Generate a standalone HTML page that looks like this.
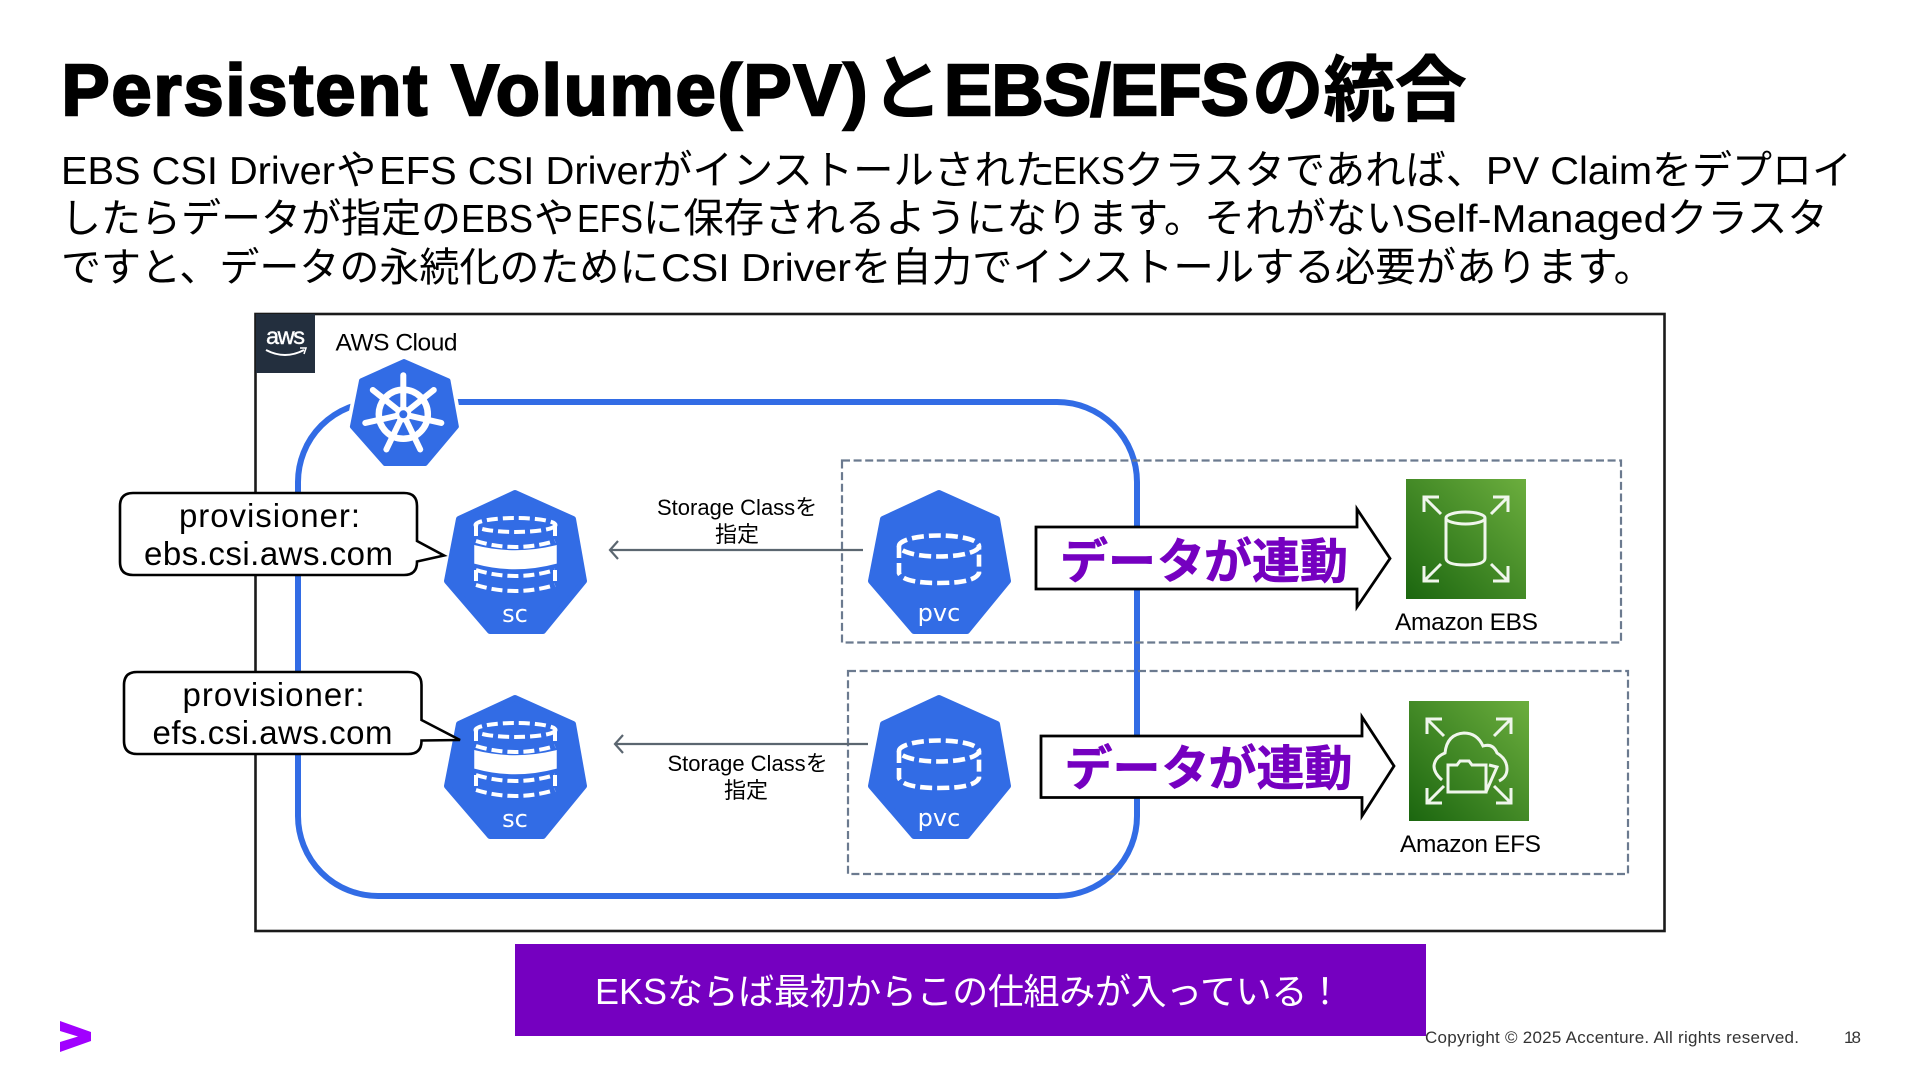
<!DOCTYPE html>
<html lang="ja"><head><meta charset="utf-8"><title>Persistent Volume(PV)とEBS/EFSの統合</title>
<style>
html,body{margin:0;padding:0;background:#fff;width:1920px;height:1080px;overflow:hidden}
svg{display:block}
text{font-family:"Liberation Sans","Noto Sans CJK JP",sans-serif;fill:#000}
.j{font-family:"Noto Sans CJK JP","Liberation Sans",sans-serif}
.t{font-size:72px;font-weight:700;stroke:#000;stroke-width:2.4px}
.tj{font-size:71.5px;font-weight:700}
.b{font-size:38.5px}
.bj{font-size:40.4px;font-family:"Noto Sans CJK JP","Liberation Sans",sans-serif}
.c{font-size:33px}
.s{font-size:22px}
.a{font-size:24.5px}
.d{font-size:48px;font-weight:700;fill:#7500c0;stroke:#7500c0;stroke-width:.6px;font-family:"Noto Sans CJK JP",sans-serif}
.l{font-size:24px;fill:#fff;font-family:"DejaVu Sans",sans-serif}
.f{font-size:17px;fill:#333}
</style></head><body>
<svg width="1920" height="1080" viewBox="0 0 1920 1080" xmlns="http://www.w3.org/2000/svg">
<defs>
<linearGradient id="g" x1="0" y1="1" x2="1" y2="0"><stop offset="0" stop-color="#1b660f"/><stop offset="1" stop-color="#6cae3e"/></linearGradient>
<polygon id="hp" points="515,493 573,519 584,581 543,631 490,631 447,581 459,519" fill="#326ce5" stroke="#326ce5" stroke-width="6" stroke-linejoin="round"/>
<g id="sc">
<use href="#hp"/>
<g fill="none" stroke="#fff" stroke-width="4" stroke-dasharray="11 5">
<ellipse cx="515.5" cy="525" rx="40" ry="7"/>
<path d="M476 525V540M555 525V540"/>
<path d="M476 541Q515 553 555 541"/>
<path d="M476 570V585M555 570V585"/>
<path d="M476 570Q515 582 555 570"/>
<path d="M476 585Q515 597 555 585"/>
</g>
<path d="M475 546Q515 556 556 546V563Q515 574 475 563Z" fill="#fff" stroke="#fff" stroke-width="1.5"/>
</g>
<g id="pv">
<use href="#hp" transform="translate(424,0)"/>
<g fill="none" stroke="#fff" stroke-width="4.6" stroke-dasharray="12 5">
<ellipse cx="939" cy="546" rx="40" ry="10.5"/>
<path d="M899 546V573Q903 583 939 583Q975 583 979 573V546"/>
</g>
</g>
<g id="ar" fill="none" stroke="#f0f6ec" stroke-width="3">
<path d="M33 18H18V33M18 18L35 35"/><path d="M87 18H102V33M102 18L85 35"/>
<path d="M18 87V102H33M18 102L35 85"/><path d="M102 87V102H87M102 102L85 85"/>
</g>
</defs>

<!-- title -->
<text class="t" x="61.5" y="115" textLength="806">Persistent Volume(PV)</text>
<text class="j tj" x="871" y="114" font-weight="500" style="font-size:72px">と</text>
<text class="t" x="944" y="115" textLength="305">EBS/EFS</text>
<text class="j tj" x="1252" y="115" stroke="#000" stroke-width="1">の統合</text>

<!-- body -->
<text class="b" x="61" y="184" textLength="274" lengthAdjust="spacingAndGlyphs">EBS CSI Driver</text><text class="bj" x="336" y="184">や</text>
<text class="b" x="379" y="184" textLength="273" lengthAdjust="spacingAndGlyphs">EFS CSI Driver</text><text class="bj" x="652" y="184">がインストールされた</text>
<text class="b" x="1053" y="184" textLength="72" lengthAdjust="spacingAndGlyphs">EKS</text><text class="bj" x="1124" y="184">クラスタであれば、</text>
<text class="b" x="1486" y="184" textLength="166" lengthAdjust="spacingAndGlyphs">PV Claim</text><text class="bj" x="1652" y="184" style="font-size:40px">をデプロイ</text>

<text class="bj" x="61" y="232" style="font-size:40px">したらデータが指定の</text>
<text class="b" x="461" y="232" textLength="72" lengthAdjust="spacingAndGlyphs">EBS</text><text class="bj" x="534" y="232">や</text>
<text class="b" x="577" y="232" textLength="66" lengthAdjust="spacingAndGlyphs">EFS</text><text class="bj" x="643" y="232">に保存されるようになります。それがない</text>
<text class="b" x="1405" y="232" textLength="262" lengthAdjust="spacingAndGlyphs">Self-Managed</text><text class="bj" x="1667" y="232">クラスタ</text>

<text class="bj" x="61" y="281" style="font-size:40px">ですと、データの永続化のために</text>
<text class="b" x="661" y="281" textLength="190" lengthAdjust="spacingAndGlyphs">CSI Driver</text><text class="bj" x="851" y="281">を自力でインストールする必要があります。</text>

<!-- outer box -->
<rect x="255.5" y="314" width="1409" height="617" fill="#fff" stroke="#1a1a1a" stroke-width="2.6"/>
<rect x="256" y="314" width="59" height="59" fill="#232f3e"/>
<text x="266" y="344" font-size="23.5" style="fill:#fff" stroke="#fff" stroke-width=".4" textLength="39">aws</text>
<path d="M266 350Q285 360 304 350" fill="none" stroke="#fff" stroke-width="2"/>
<path d="M300 348L306 348L304 354" fill="none" stroke="#fff" stroke-width="1.5"/>
<text class="a" x="335.5" y="350.5" textLength="122">AWS Cloud</text>

<!-- cluster -->
<rect x="298" y="402" width="839" height="494" rx="80" ry="80" fill="none" stroke="#326ce5" stroke-width="6"/>

<!-- dashed -->
<rect x="842" y="460.5" width="779" height="182" fill="none" stroke="#6b7a8f" stroke-width="2.2" stroke-dasharray="8 3.6"/>
<rect x="848" y="671" width="780" height="203" fill="none" stroke="#6b7a8f" stroke-width="2.2" stroke-dasharray="8 3.6"/>

<!-- k8s -->
<g transform="translate(404,359) scale(.7622,.743) translate(-515,-490)">
<polygon points="515,493 573,519 584,581 543,631 490,631 447,581 459,519" fill="#326ce5" stroke="#fff" stroke-width="16" stroke-linejoin="round"/>
<use href="#hp"/>
</g>
<g transform="translate(403.3,414.3)" fill="none" stroke="#fff">
<circle r="24.5" stroke-width="6.5"/>
<g stroke-width="6" stroke-linecap="round">
<path d="M0 -5V-39"/>
<path d="M0 -5V-39" transform="rotate(51.43)"/>
<path d="M0 -5V-39" transform="rotate(102.86)"/>
<path d="M0 -5V-39" transform="rotate(154.29)"/>
<path d="M0 -5V-39" transform="rotate(205.71)"/>
<path d="M0 -5V-39" transform="rotate(257.14)"/>
<path d="M0 -5V-39" transform="rotate(308.57)"/>
</g>
<circle r="8" fill="#fff" stroke="none"/>
<circle r="4" fill="#326ce5" stroke="none"/>
</g>

<!-- sc / pvc -->
<use href="#sc"/>
<use href="#sc" transform="translate(0,205)"/>
<use href="#pv"/>
<use href="#pv" transform="translate(0,205)"/>
<text class="l" x="515" y="622" text-anchor="middle" style="fill:#fff">sc</text>
<text class="l" x="515" y="827" text-anchor="middle" style="fill:#fff">sc</text>
<text class="l" x="939" y="621" text-anchor="middle" style="fill:#fff">pvc</text>
<text class="l" x="939" y="826" text-anchor="middle" style="fill:#fff">pvc</text>

<!-- thin arrows -->
<g fill="none" stroke="#5b6670" stroke-width="2.2">
<path d="M610 550H863"/><path d="M618 541L610 550L618 559"/>
<path d="M615 744H868"/><path d="M623 735L615 744L623 753"/>
</g>
<text class="s" x="657" y="515">Storage Class<tspan class="j">を</tspan></text>
<text class="s j" x="737" y="542" text-anchor="middle">指定</text>
<text class="s" x="667.5" y="771">Storage Class<tspan class="j">を</tspan></text>
<text class="s j" x="746" y="798" text-anchor="middle">指定</text>

<!-- callouts -->
<path d="M133 493H404Q417 493 417 506V541L444 555.5L417 561.5V562Q417 575 404 575H133Q120 575 120 562V506Q120 493 133 493Z" fill="#fff" stroke="#000" stroke-width="2.6"/>
<text class="c" x="179" y="527" textLength="181">provisioner:</text>
<text class="c" x="144" y="565" textLength="249">ebs.csi.aws.com</text>
<path d="M137 672H408Q421.5 672 421.5 685V720L460 740L421.5 740.5V741Q421.5 754 408 754H137Q124 754 124 741V685Q124 672 137 672Z" fill="#fff" stroke="#000" stroke-width="2.6"/>
<text class="c" x="182.5" y="706" textLength="182">provisioner:</text>
<text class="c" x="152.5" y="744" textLength="240">efs.csi.aws.com</text>

<!-- big arrows -->
<path d="M1036 527H1357V509L1390 558.5L1357 607V589H1036Z" fill="#fff" stroke="#000" stroke-width="2.8"/>
<text class="d" x="1060 1108 1157 1204 1252 1300" y="578">データが連動</text>
<path d="M1041 736H1362V717L1394 766L1362 816V797.5H1041Z" fill="#fff" stroke="#000" stroke-width="2.8"/>
<text class="d" x="1064.5 1112.5 1161.5 1208.5 1256.5 1304.5" y="785">データが連動</text>

<!-- EBS -->
<g transform="translate(1406,479)">
<rect width="120" height="120" fill="url(#g)"/>
<use href="#ar"/>
<g fill="none" stroke="#f0f6ec" stroke-width="3">
<ellipse cx="59.5" cy="39" rx="19.5" ry="6"/>
<path d="M40 39V79Q40 86 59.5 86Q79 86 79 79V39"/>
</g>
</g>
<text class="a" x="1395" y="630" textLength="143">Amazon EBS</text>
<!-- EFS -->
<g transform="translate(1409,701)">
<rect width="120" height="120" fill="url(#g)"/>
<use href="#ar"/>
<g fill="none" stroke="#f0f6ec" stroke-width="3">
<path d="M33 79Q25 72 25 65Q26 56 36 52Q38 33 55 32Q68 32 74 45Q84 42 88 52Q98 58 98 68Q98 76 90 80"/>
<path d="M39 91V64H48L51 60H60L63 64H77V91Z"/>
<path d="M77 91L88 66L80 64"/>
</g>
</g>
<text class="a" x="1400" y="852" textLength="141">Amazon EFS</text>

<!-- banner -->
<rect x="515" y="944" width="911" height="92" fill="#7500c0"/>
<text x="595" y="1004" font-size="36" style="fill:#fff" textLength="72">EKS</text>
<text class="j" x="667" y="1004" font-size="36" style="fill:#fff" textLength="676">ならば最初からこの仕組みが入っている！</text>

<!-- footer -->
<text class="f" x="1425" y="1043" textLength="374">Copyright © 2025 Accenture. All rights reserved.</text>
<text class="f" x="1844" y="1043" textLength="17">18</text>
<polygon points="60,1021 91,1032 91,1041 60,1052 60,1042 78,1036.5 60,1031" fill="#a100ff"/>
</svg>
</body></html>
